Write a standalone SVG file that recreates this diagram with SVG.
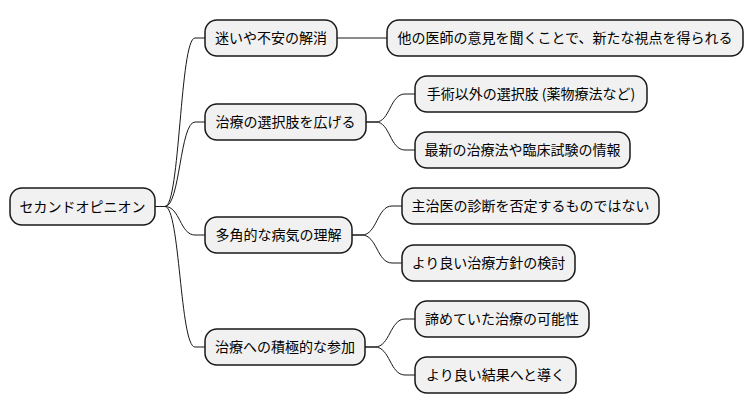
<svg xmlns="http://www.w3.org/2000/svg" width="754" height="415" viewBox="0 0 754 415">
<style>
.n rect{fill:#F1F1F1;stroke:#181818;stroke-width:1.5}
.n text{font-family:"Noto Sans CJK JP","Noto Sans",sans-serif;font-size:14px;fill:#000;text-anchor:middle}
.c path{fill:none;stroke:#181818;stroke-width:1}
</style>
<rect width="754" height="415" fill="#fff"/>
<g class="c">
<path d="M155,206.5 L165,206.5 C180,206.5 180,38 195,38 L205,38"/>
<path d="M155,206.5 L165,206.5 C180,206.5 180,122 195,122 L205,122"/>
<path d="M155,206.5 L165,206.5 C180,206.5 180,235 195,235 L205,235"/>
<path d="M155,206.5 L165,206.5 C180,206.5 180,347 195,347 L205,347"/>
<path d="M337,38 L387,38"/>
<path d="M366,122 L376,122 C390,122 390,94 405,94 L415,94"/>
<path d="M366,122 L376,122 C390,122 390,150 405,150 L415,150"/>
<path d="M352,235 L362,235 C377,235 377,206 392,206 L402,206"/>
<path d="M352,235 L362,235 C377,235 377,263 392,263 L402,263"/>
<path d="M365,347 L375,347 C390,347 390,319 405,319 L415,319"/>
<path d="M365,347 L375,347 C390,347 390,375 405,375 L415,375"/>
</g>
<g id="root" class="n"><rect x="10" y="188" width="145" height="37" rx="12"/><text x="82.5" y="211.5">セカンドオピニオン</text></g>
<g id="n1" class="n"><rect x="205" y="20" width="132" height="36" rx="12"/><text x="271" y="43">迷いや不安の解消</text></g>
<g id="n2" class="n"><rect x="205" y="104" width="161" height="36" rx="12"/><text x="285.5" y="127">治療の選択肢を広げる</text></g>
<g id="n3" class="n"><rect x="205" y="217" width="147" height="36" rx="12"/><text x="278.5" y="240">多角的な病気の理解</text></g>
<g id="n4" class="n"><rect x="205" y="329" width="160" height="36" rx="12"/><text x="285" y="352">治療への積極的な参加</text></g>
<g id="n1a" class="n"><rect x="387" y="20" width="356" height="36" rx="12"/><text x="565" y="43">他の医師の意見を聞くことで、新たな視点を得られる</text></g>
<g id="n2a" class="n"><rect x="415" y="76" width="232" height="36" rx="12"/><text x="531" y="99">手術以外の選択肢 (薬物療法など)</text></g>
<g id="n2b" class="n"><rect x="415" y="132" width="215" height="36" rx="12"/><text x="522.5" y="155">最新の治療法や臨床試験の情報</text></g>
<g id="n3a" class="n"><rect x="402" y="188" width="257" height="36" rx="12"/><text x="530.5" y="211">主治医の診断を否定するものではない</text></g>
<g id="n3b" class="n"><rect x="402" y="245" width="173" height="36" rx="12"/><text x="488.5" y="268">より良い治療方針の検討</text></g>
<g id="n4a" class="n"><rect x="415" y="301" width="174" height="36" rx="12"/><text x="502" y="324">諦めていた治療の可能性</text></g>
<g id="n4b" class="n"><rect x="415" y="357" width="161" height="36" rx="12"/><text x="495.5" y="380">より良い結果へと導く</text></g>
</svg>
